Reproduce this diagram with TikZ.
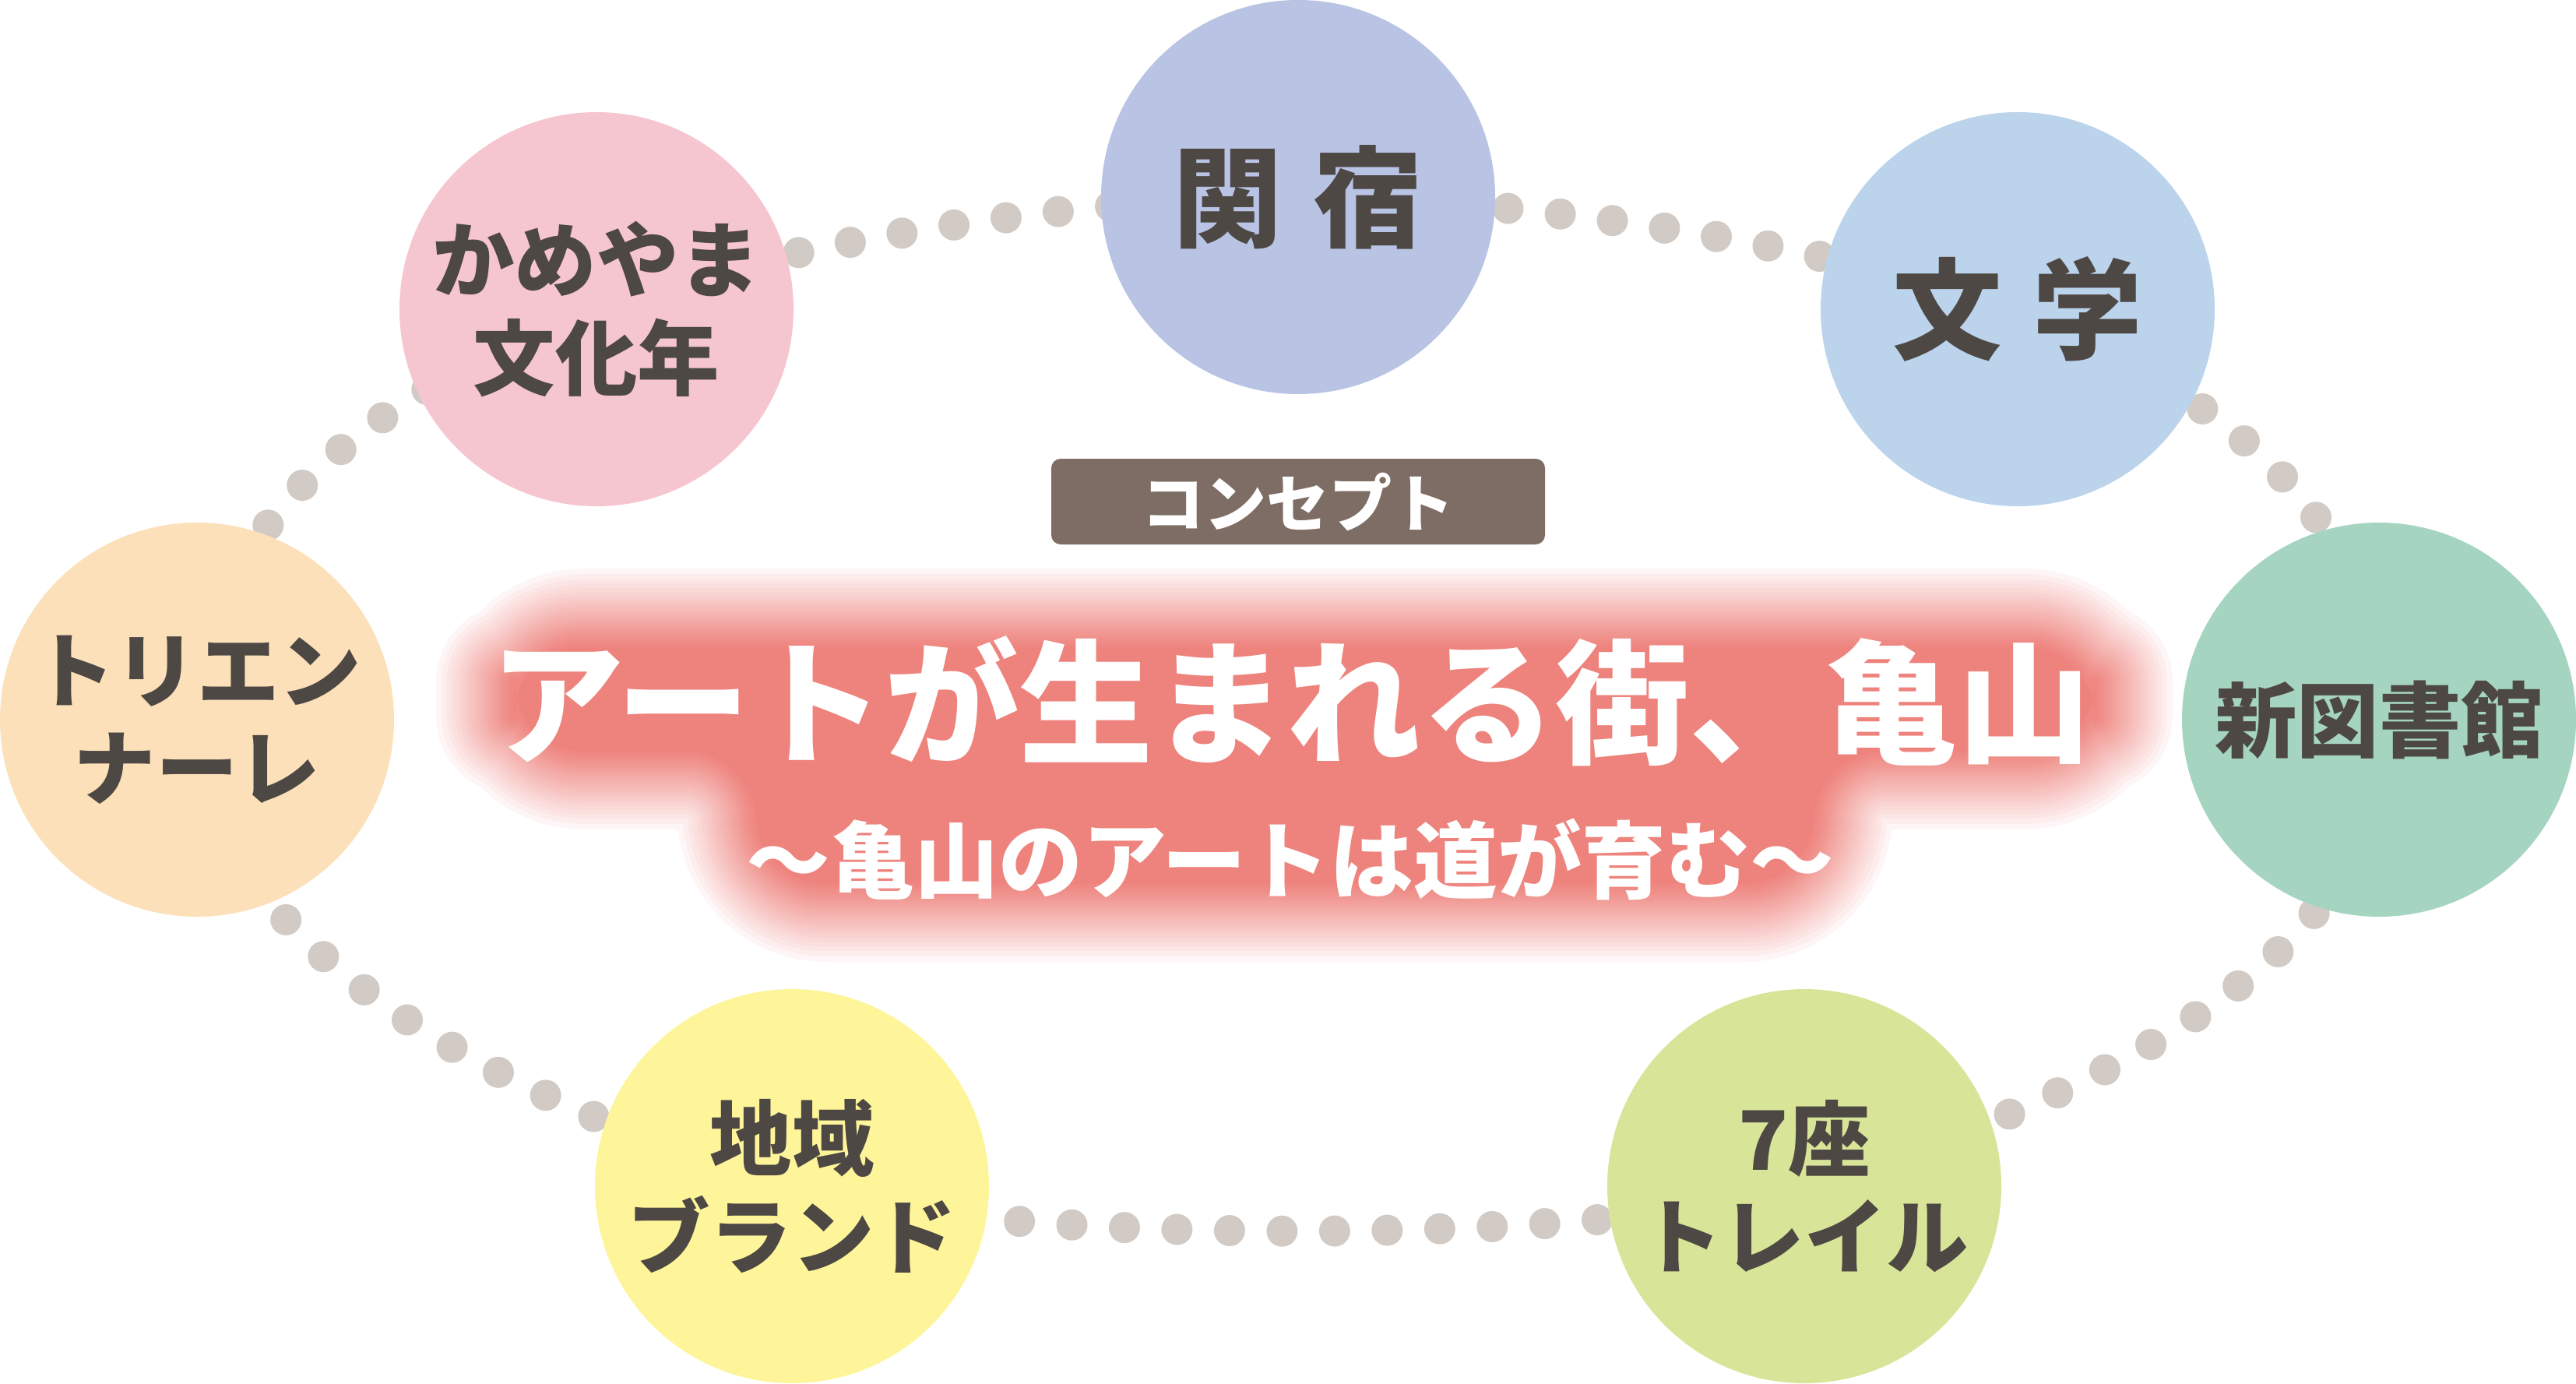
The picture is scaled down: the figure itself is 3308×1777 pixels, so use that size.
\documentclass[tikz,border=0pt]{standalone}
\usepackage{fontspec}
\usetikzlibrary{backgrounds}
\newfontfamily\jpfont{Noto Sans CJK JP}

\definecolor{dotgray}{HTML}{D2CBC5}
\definecolor{labeltext}{HTML}{4E4844}
\definecolor{conceptbrown}{HTML}{7D6D64}
\definecolor{glowred}{HTML}{EE837D}
\definecolor{sekiblue}{HTML}{B9C3E3}
\definecolor{kamepink}{HTML}{F6C6D0}
\definecolor{bunblue}{HTML}{BBD4EC}
\definecolor{triorange}{HTML}{FCE0B9}
\definecolor{libgreen}{HTML}{A5D4C1}
\definecolor{brandyellow}{HTML}{FEF59A}
\definecolor{traillime}{HTML}{D8E598}

\begin{document}
\begin{tikzpicture}[x=0.1mm,y=-0.1mm,
  spot/.style={circle,inner sep=0pt,minimum size=50.6mm,align=center,text=labeltext,
    font=\jpfont\bfseries\fontsize{30}{35.6}\selectfont},
  bigspot/.style={spot,font=\jpfont\bfseries\fontsize{40}{48}\selectfont},
  dotline/.style={draw=dotgray,line width=4mm,line cap=round,dash pattern=on 0pt off 6.75mm},
  glow/.style={glowred,rounded corners=9mm,line join=round}]
\useasboundingbox (0,0) rectangle (3308,1777);

% soft red glow behind the concept
\foreach \k in {0,...,44}{
  \pgfmathsetmacro\lw{2*10*0.93^\k}
  \draw[glow,opacity=0.07,line width=\lw mm] (660,830) -- (2690,830) -- (2690,965)
    -- (2330,965) -- (2330,1135) -- (970,1135) -- (970,965) -- (660,965) -- cycle;
}
\fill[glow] (660,830) -- (2690,830) -- (2690,965)
    -- (2330,965) -- (2330,1135) -- (970,1135) -- (970,965) -- (660,965) -- cycle;

\node[bigspot,fill=sekiblue] (seki) at (1667,253) {関\hspace{0.28em}宿};
\node[spot,fill=kamepink] (kameyama) at (766,397) {かめやま\\文化年};
\node[bigspot,fill=bunblue] (bungaku) at (2591,397) {文\hspace{0.28em}学};
\node[spot,fill=triorange] (triennale) at (253,924) {トリエン\\ナーレ};
\node[spot,fill=libgreen] (library) at (3055,924) {新図書館};
\node[spot,fill=brandyellow] (brand) at (1017,1523) {地域\\ブランド};
\node[spot,fill=traillime] (trail) at (2317,1523) {7座\\トレイル};

\node[fill=conceptbrown,rounded corners=1.2mm,minimum width=63.4mm,minimum height=11mm,
  text=white,font=\jpfont\bfseries\fontsize{22.8}{24}\selectfont] (concept) at (1667,644) {コンセプト};
\node[text=white,font=\jpfont\bfseries\fontsize{49}{55}\selectfont] (title) at (1658,900)
  {アートが生まれる街、亀山};
\node[text=white,font=\jpfont\bfseries\fontsize{30.7}{34}\selectfont] (subtitle) at (1657,1103)
  {〜亀山のアートは道が育む〜};

% dotted ring
\begin{scope}[on background layer]
\draw[dotline] (kameyama.center) .. controls (900,340) and (1300,255) .. (seki.center);
\draw[dotline] (seki.center) .. controls (2034,255) and (2434,340) .. (bungaku.center);
\draw[dotline] (bungaku.center) .. controls (2720,460) and (3060,590) .. (library.center);
\draw[dotline] (library.center) .. controls (3085,1200) and (2736,1400) .. (trail.center);
\draw[dotline] (trail.center) .. controls (2084,1600) and (1250,1600) .. (brand.center);
\draw[dotline] (brand.center) .. controls (600,1400) and (260,1200) .. (triennale.center);
\draw[dotline] (triennale.center) .. controls (270,590) and (625,455) .. (kameyama.center);
\end{scope}
\end{tikzpicture}
\end{document}
